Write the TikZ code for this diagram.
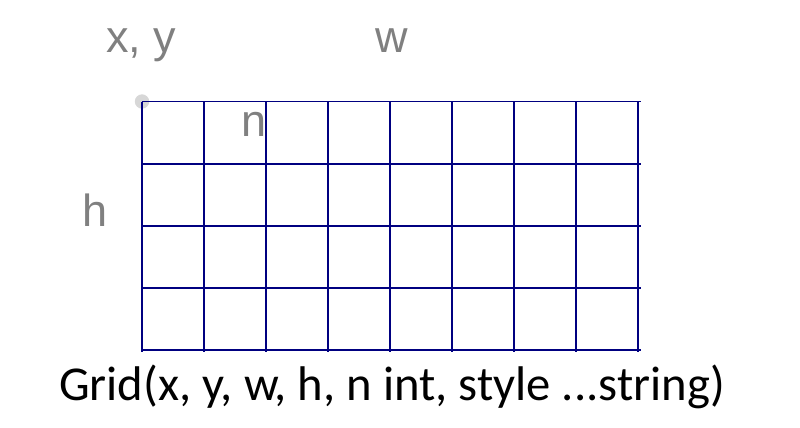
\documentclass[tikz,border=0pt]{standalone}
\usepackage{fontspec}
\setmainfont{Liberation Sans}
\newfontfamily\callfont{Carlito}
\definecolor{gridblue}{RGB}{0,0,128}
\definecolor{labgrey}{RGB}{128,128,128}
\definecolor{dotgrey}{RGB}{215,215,215}

\begin{document}
\begin{tikzpicture}[
  x=0.025cm, y=-0.025cm,
  gridline/.style={draw=gridblue, line width=1.4pt},
  lab/.style={text=labgrey, font=\fontsize{32}{36}\selectfont, inner sep=0pt, anchor=base},
  call/.style={text=black, font=\callfont\fontsize{34.6}{40}\selectfont, inner sep=0pt, anchor=base}
]
\useasboundingbox (0,0) rectangle (800,427);

% origin marker
\node[circle, fill=dotgrey, minimum size=0.36cm, inner sep=0pt] (origin) at (142,101.5) {};

% the grid, 8 columns by 4 rows
\foreach \i in {0,...,8}
  \draw[gridline] (142+62*\i,101.5) -- (142+62*\i,352);
\foreach \j in {0,...,4}
  \draw[gridline] (142,101.5+62.1*\j) -- (641,101.5+62.1*\j);

% parameter labels
\node[lab] (xy) at (141,53) {x, y};
\node[lab] (w) at (392,53) {w};
\node[lab] (n) at (254,136) {n};
\node[lab] (h) at (95,226) {h};

\node[call] (sig) at (392,400) {Grid(x, y, w, h, n int, style ...string)};

\end{tikzpicture}
\end{document}
